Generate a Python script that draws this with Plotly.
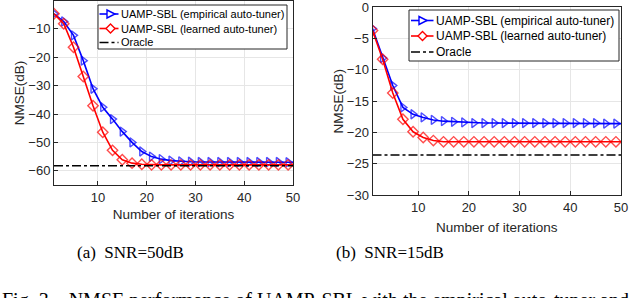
import plotly.graph_objects as go

W, H = 640, 298

iters = [1, 3, 5, 7, 9, 11, 13, 15, 17, 19, 21, 23, 25, 27, 29, 31, 33, 35, 37, 39, 41, 43, 45, 47, 49, 50]

# (a) SNR = 50 dB
a_empirical = [-4.7, -7.4, -12.3, -21.2, -31.1, -37.6, -41.8, -46.2, -50.0, -53.2, -55.0, -55.9, -56.4,
               -56.7, -56.8, -56.9, -56.9, -56.9, -56.9, -56.9, -56.9, -56.9, -56.9, -56.9, -57.0, -57.0]
a_learned = [-4.7, -8.2, -16.5, -26.8, -37.1, -46.4, -52.8, -56.1, -57.3, -57.7, -57.9, -57.9, -57.9,
             -57.9, -57.9, -57.9, -57.9, -57.9, -57.9, -57.9, -57.9, -57.9, -57.9, -57.9, -57.9, -57.9]
a_oracle = -58.2

# (b) SNR = 15 dB
b_empirical = [-3.4, -8.1, -12.5, -16.0, -17.1, -17.6, -18.0, -18.2, -18.3, -18.4, -18.5, -18.5, -18.5,
               -18.5, -18.5, -18.5, -18.5, -18.5, -18.5, -18.5, -18.5, -18.5, -18.5, -18.6, -18.6, -18.6]
b_learned = [-3.7, -8.3, -13.7, -17.9, -19.9, -20.8, -21.3, -21.5, -21.5, -21.5, -21.5, -21.5, -21.5,
             -21.5, -21.5, -21.5, -21.5, -21.5, -21.5, -21.5, -21.5, -21.5, -21.5, -21.5, -21.5, -21.5]
b_oracle = -23.6

names = ["UAMP-SBL (empirical auto-tuner)", "UAMP-SBL (learned auto-tuner)", "Oracle"]
captions = ["(a)  SNR=50dB", "(b)  SNR=15dB"]
fig_caption = "Fig. 3.\u00a0\u00a0\u00a0NMSE performance of UAMP-SBL with the empirical auto-tuner and"

BLUE, RED, BLACK, AX = "#0000FF", "#FF0000", "black", "#262626"
msize = [8] * (len(iters) - 1) + [0]

fig = go.Figure()


def add_panel(emp, lrn, orc, xa, ya):
    fig.add_trace(go.Scatter(x=iters, y=emp, name=names[0], mode="lines+markers",
                             line=dict(color=BLUE, width=1.6),
                             marker=dict(symbol="triangle-right-open", size=msize, color=BLUE,
                                         line=dict(width=1.4, color=BLUE)),
                             xaxis=xa, yaxis=ya, showlegend=False))
    fig.add_trace(go.Scatter(x=iters, y=lrn, name=names[1], mode="lines+markers",
                             line=dict(color=RED, width=1.6),
                             marker=dict(symbol="diamond-open", size=msize, color=RED,
                                         line=dict(width=1.4, color=RED)),
                             xaxis=xa, yaxis=ya, showlegend=False))
    fig.add_trace(go.Scatter(x=[iters[0], iters[-1]], y=[orc, orc], name=names[2], mode="lines",
                             line=dict(color=BLACK, width=1.6, dash="dashdot"),
                             xaxis=xa, yaxis=ya, showlegend=False))


add_panel(a_empirical, a_learned, a_oracle, "x", "y")
add_panel(b_empirical, b_learned, b_oracle, "x2", "y2")

axis_common = dict(showline=True, mirror=True, linecolor=AX, linewidth=1,
                   ticks="inside", ticklen=4, tickcolor=AX, automargin=False,
                   ticklabeloverflow="allow",
                   showgrid=True, gridcolor="#E6E6E6", gridwidth=1, zeroline=False,
                   tickfont=dict(family="Liberation Sans, Arial", size=13, color=AX))

title_font = dict(family="Liberation Sans, Arial", size=13.5, color=AX)

fig.update_layout(
    width=W, height=H, margin=dict(l=0, r=0, t=0, b=0),
    paper_bgcolor="white", plot_bgcolor="white", showlegend=False,
    xaxis=dict(domain=[54 / W, 293 / W], range=[1, 50], tickvals=[10, 20, 30, 40, 50], anchor="y",
               title=dict(text="Number of iterations", font=title_font, standoff=5), **axis_common),
    yaxis=dict(domain=[1 - 185 / H, 1 - 1 / H], range=[-65, -0.2], tickvals=[-60, -50, -40, -30, -20, -10],
               anchor="x", title=dict(text="NMSE(dB)", font=title_font, standoff=0), **axis_common),
    xaxis2=dict(domain=[372.5 / W, 621 / W], range=[1, 50], tickvals=[10, 20, 30, 40, 50], anchor="y2",
                title=dict(text="Number of iterations", font=title_font, standoff=8), **axis_common),
    yaxis2=dict(domain=[1 - 195 / H, 1 - 7.3 / H], range=[-30, 0], tickvals=[-30, -25, -20, -15, -10, -5, 0],
                anchor="x2", title=dict(text="NMSE(dB)", font=title_font, standoff=0), **axis_common),
)


def px(x):
    return x / W


def py(y):
    return 1 - y / H


def draw_legend(box, rows, line_x, mark_x, text_x, fsize):
    x0, y0, x1, y1 = box
    fig.add_shape(type="rect", xref="paper", yref="paper", x0=px(x0), x1=px(x1), y0=py(y1), y1=py(y0),
                  line=dict(color=AX, width=1), fillcolor="white", layer="above")
    styles = [(BLUE, "solid", "tri"), (RED, "solid", "dia"), (BLACK, "dashdot", None)]
    for (color, dash, mk), ry, name in zip(styles, rows, names):
        fig.add_shape(type="line", xref="paper", yref="paper", x0=px(line_x[0]), x1=px(line_x[1]),
                      y0=py(ry), y1=py(ry), line=dict(color=color, width=1.6, dash=dash), layer="above")
        if mk == "tri":
            path = "M {} {} L {} {} L {} {} Z".format(px(mark_x - 3.5), py(ry - 4), px(mark_x + 4.5), py(ry),
                                                    px(mark_x - 3.5), py(ry + 4))
        elif mk == "dia":
            path = "M {} {} L {} {} L {} {} L {} {} Z".format(px(mark_x), py(ry - 4.5), px(mark_x + 4.5), py(ry),
                                                            px(mark_x), py(ry + 4.5), px(mark_x - 4.5), py(ry))
        else:
            path = None
        if path:
            fig.add_shape(type="path", xref="paper", yref="paper", path=path,
                          line=dict(color=color, width=1.4), fillcolor="white", layer="above")
        fig.add_annotation(text=name, x=px(text_x), y=py(ry), xref="paper", yref="paper", showarrow=False,
                           xanchor="left", yanchor="middle",
                           font=dict(family="Liberation Sans, Arial", size=fsize, color=BLACK))


draw_legend((98, 5, 287, 49), [14, 28.5, 42.5], (99.5, 118.5), 110.5, 118.5, 11)
draw_legend((409, 10, 619, 61), [20.5, 36, 52], (411, 433.5), 422.5, 433.5, 12)

cap_font = dict(family="Liberation Serif, Times New Roman", size=17, color="black")
fig.add_annotation(text=captions[0], x=130 / W, y=1 - 252 / H, xref="paper", yref="paper",
                   showarrow=False, font=cap_font, xanchor="center", yanchor="middle")
fig.add_annotation(text=captions[1], x=390 / W, y=1 - 252 / H, xref="paper", yref="paper",
                   showarrow=False, font=cap_font, xanchor="center", yanchor="middle")
fig.add_annotation(text=fig_caption, x=0, y=1 - 286.5 / H, xref="paper", yref="paper",
                   showarrow=False, font=dict(family="Liberation Serif, Times New Roman", size=20, color="black"),
                   xanchor="left", yanchor="top")

fig.write_html("out.html", config={"displayModeBar": False},
               post_script="document.body.style.margin='0';document.body.style.padding='0';")
